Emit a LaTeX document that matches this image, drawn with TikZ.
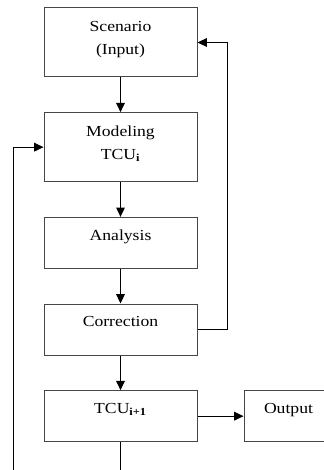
\documentclass[tikz,border=0pt]{standalone}
\usepackage{fontspec}
\setmainfont{Liberation Serif}[FakeStretch=1.15]
\usetikzlibrary{arrows.meta, positioning}
\definecolor{boxline}{RGB}{70,70,70}
\tikzset{
  block/.style={rectangle, draw=boxline, fill=white,
    minimum width=114.75pt, minimum height=38.25pt, inner sep=0pt,
    text depth=12pt, align=center, font=\fontsize{11.5}{17}\selectfont,
    line width=0.75pt},
  tallblock/.style={block, minimum height=51.75pt, text depth=7pt},
  arrow/.style={-{Triangle[length=7pt,width=6.5pt]}, line width=0.75pt, color=black},
  line/.style={line width=0.75pt, color=black}
}
\begin{document}
\begin{tikzpicture}[x=0.75pt, y=-0.75pt, node distance=26pt]
  \useasboundingbox (0,0) rectangle (324,470);
  \begin{scope}
    \clip (0,0) rectangle (324,470);
    % Main chain
    \node[tallblock] (scen) at (120.5,42.5) {Scenario\\(Input)};
    \node[tallblock, below=of scen] (model) {Modeling\\TCU\textsubscript{\bfseries i}};
    \node[block, below=of model] (anal) {Analysis};
    \node[block, below=of anal] (corr) {Correction};
    \node[block, below=of corr] (tcu) {TCU\textsubscript{\bfseries i+1}};
    \node[block, right=34.5pt of tcu, minimum width=66.75pt] (out) {Output};

    % Loose ends at the bottom edge
    \coordinate (loopend) at (13,470);
    \coordinate (tcuend) at (tcu.south |- loopend);

    % Forward arrows
    \draw[arrow] (scen) -- (model);
    \draw[arrow] (model) -- (anal);
    \draw[arrow] (anal) -- (corr);
    \draw[arrow] (corr) -- (tcu);
    \draw[arrow] (tcu) -- (out);

    % Feedback loops
    \draw[arrow] (corr.east) -- ++(30,0) |- (scen.east);
    \draw[arrow] (loopend) |- (model.west);
    \draw[line] (tcu) -- (tcuend);
  \end{scope}
\end{tikzpicture}
\end{document}
